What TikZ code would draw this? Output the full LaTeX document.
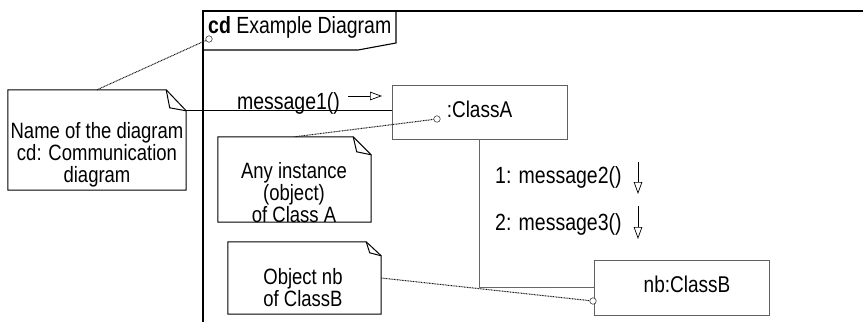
\documentclass[tikz,border=0pt]{standalone}
\usepackage{fontspec}
\setmainfont{Liberation Sans}
\usepackage{graphicx}
\usetikzlibrary{arrows.meta,calc}

% text set slightly taller than wide, lines stacked and centred
\newcommand\tx[1]{\scalebox{1}[1.2]{\begin{tabular}[t]{@{}c@{}}#1\end{tabular}}}

\tikzset{
  lbl/.style={inner sep=0pt, font=\fontsize{19.5}{16.7}\selectfont},
  notetxt/.style={inner sep=0pt, anchor=base, font=\fontsize{18.5}{16.7}\selectfont},
  notebox/.style={rectangle, inner sep=0pt, draw=none},
  objbox/.style={rectangle, draw=black!62, line width=0.9pt, inner sep=0pt,
                 font=\fontsize{19}{16.7}\selectfont},
  link/.style={draw=black!60, line width=0.9pt},
  anchorline/.style={draw=black!90, line width=1pt, dash pattern=on 0.9pt off 0.7pt},
  pin/.style={circle, draw=black!75, fill=white, line width=0.6pt, minimum size=6.5pt, inner sep=0pt},
  msg/.style={draw=black, line width=0.7pt, -{Triangle[open, length=12pt, width=8.5pt]}},
  noteline/.style={draw=black, line width=1pt, line join=miter}
}

% outline of a note with a folded top-right corner
\newcommand\notefold[3]{%
  \draw[noteline] (#1.south west) -- (#1.north west) -- ($(#1.north east)+(-#2,0)$)
    -- ($(#1.north east)+(0,#3)$) -- (#1.south east) -- cycle;
  \draw[noteline] ($(#1.north east)+(-#2,0)$) -- ($(#1.north east)+(-#2+3.5,#3-3)$)
    -- ($(#1.north east)+(0,#3)$);
}

\begin{document}
\begin{tikzpicture}[x=1pt, y=-1pt]
\useasboundingbox (0,0) rectangle (863,322);

% diagram frame and its name tag
\draw[line width=1.4pt] (203,322) -- (203,11) -- (863,11);
\draw[line width=1.1pt, line join=miter] (203,11) -- (396,11) -- (396,43) -- (358,50) -- (203,50);
\node[lbl, anchor=base west] (title) at (208,33) {\tx{\textbf{cd} Example Diagram}};

% objects
\node[objbox, minimum width=175pt, minimum height=54pt] (a) at (479.5,112) {\tx{:ClassA}};
\node[objbox, minimum width=175pt, minimum height=55pt] (b) at (681.5,287.5) {\tx{\hspace{11pt}nb:ClassB}};

% notes
\node[notebox, minimum width=178pt, minimum height=100pt] (n1) at (97,140) {};
\notefold{n1}{20}{21}
\node[notetxt] (n1t) at (97,138) {\tx{Name of the diagram\\cd: Communication\\diagram}};

\node[notebox, minimum width=153pt, minimum height=85pt] (n2) at (294.5,179.5) {};
\notefold{n2}{18}{18}
\node[notetxt] (n2t) at (294,178) {\tx{Any instance\\(object)\\of Class A}};

\node[notebox, minimum width=153pt, minimum height=72pt] (n3) at (304.5,278) {};
\notefold{n3}{15}{14}
\node[notetxt] (n3t) at (303,284) {\tx{Object nb\\of ClassB}};

% attachment points of the notes
\node[pin] (c1) at (209,39) {};
\node[pin] (c2) at (437,119) {};
\node[pin] (c3) at (593,301) {};

\draw[anchorline] (n1.north) -- (c1);
\draw[anchorline] (n2.north) -- (c2);
\draw[anchorline] (n3.east) -- (c3);

% links
\coordinate (n1c) at ($(n1.north east)+(0,21)$);
\draw[line width=1pt] (n1c) -- (n1c -| a.west);
\draw[link] (a.south) |- (b.west);

% messages
\node[lbl, anchor=base] (m1) at (288.5,109) {\tx{message1()}};
\coordinate (m1s) at (348,96);
\coordinate (m1e) at (382,96);
\draw[msg] (m1s) -- (m1e);

\node[lbl, anchor=base west] (m2) at (495,183) {\tx{1: message2()}};
\coordinate (m2s) at (638,162);
\coordinate (m2e) at (638,194);
\draw[msg] (m2s) -- (m2e);

\node[lbl, anchor=base west] (m3) at (495,230) {\tx{2: message3()}};
\coordinate (m3s) at (638,206);
\coordinate (m3e) at (638,239);
\draw[msg] (m3s) -- (m3e);
\end{tikzpicture}
\end{document}
